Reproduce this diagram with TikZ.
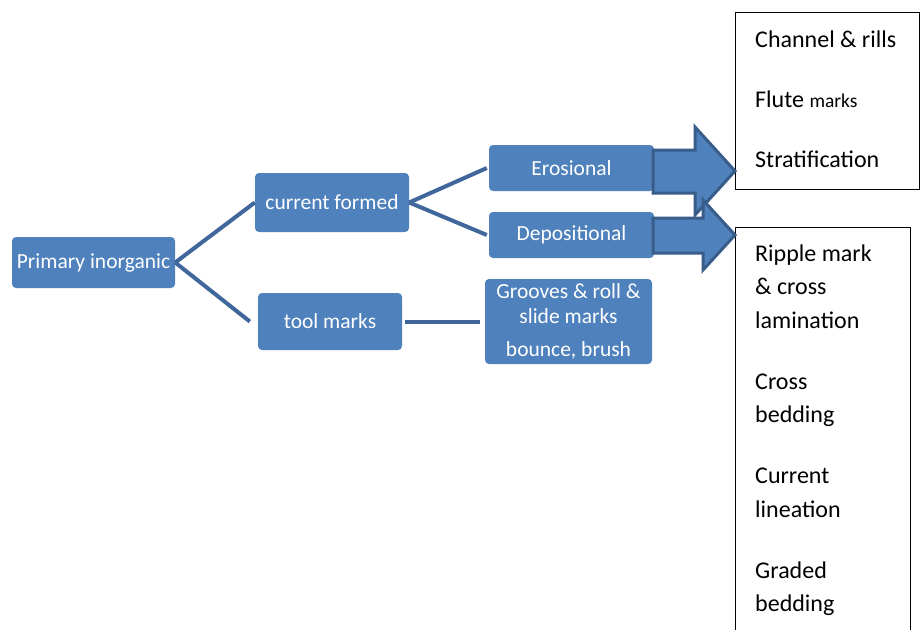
\documentclass[tikz,border=0pt]{standalone}
\usepackage{fontspec}
\setmainfont{Carlito}
\definecolor{boxblue}{HTML}{4F81BD}
\definecolor{lineblue}{HTML}{40679B}
\definecolor{edgeblue}{HTML}{385D8A}

\begin{document}
\begin{tikzpicture}[x=1pt,y=-1pt,
	    bluebox/.style={fill=boxblue, rounded corners=4pt, text=white, font=\fontsize{21.5}{25}\selectfont, align=center, inner sep=2pt},
	    link/.style={draw=lineblue, line width=4pt},
	    blockarrow/.style={fill=boxblue, draw=edgeblue, line width=3pt, line join=miter},
	    listbox/.style={draw=black, line width=0.8pt, fill=white},
	    listtext/.style={font=\fontsize{24}{33.5}\selectfont, align=left, inner sep=0pt}]
	    \clip (0,0) rectangle (920,629);
	    \fill[white] (0,0) rectangle (920,629);

	    % blue boxes
	    \node[bluebox, minimum width=163, minimum height=51] (primary) at (93.5,262.5) {Primary inorganic};
	    \node[bluebox, minimum width=154, minimum height=59] (current) at (332,202.5) {current formed};
	    \node[bluebox, minimum width=144, minimum height=57] (tool) at (330,321.5) {tool marks};
	    \node[bluebox, minimum width=165, minimum height=46] (erosional) at (571.5,168) {Erosional};
	    \node[bluebox, minimum width=165, minimum height=46] (depositional) at (571.5,235) {Depositional};
	    \node[bluebox, minimum width=167, minimum height=85] (grooves) at (568.5,321.5) {Grooves \& roll \&\\ slide marks\\[8pt] bounce, brush};

	    \draw[link] (primary.east) -- (current.west);
	    \draw[link] (primary.east) -- ([xshift=-8]tool.west);
	    \draw[link] (current.east) -- ([xshift=-2]erosional.west);
	    \draw[link] (current.east) -- ([xshift=-2]depositional.west);
	    \draw[link] ([xshift=3]tool.east) -- ([xshift=-5]grooves.west);

	    % lists on the right
	    \node[listbox, minimum width=184, minimum height=177, anchor=north west] (erolist) at (735,12) {};
	    \node[listbox, minimum width=175, minimum height=420, anchor=north west] (deplist) at (735,227) {};
	    \node[listtext, anchor=north west] (erotext) at (755,31) {Channel \& rills\\[26.5pt] Flute {\fontsize{19.5}{33}\selectfont marks}\\[26.5pt] Stratification};
	    \node[listtext, anchor=north west] (deptext) at (755,244.5) {Ripple mark\\ \& cross\\ lamination\\[27.5pt] Cross\\ bedding\\[27.5pt] Current\\ lineation\\[27.5pt] Graded\\ bedding};

	    % block arrows
	    \draw[blockarrow] (653,150) -- (695,150) -- (695,127) -- (735,171) -- (695,215) -- (695,193) -- (653,193) -- cycle;
	    \draw[blockarrow] (653,218) -- (703,218) -- (703,200) -- (735,235) -- (703,270) -- (703,253) -- (653,253) -- cycle;
\end{tikzpicture}
\end{document}
